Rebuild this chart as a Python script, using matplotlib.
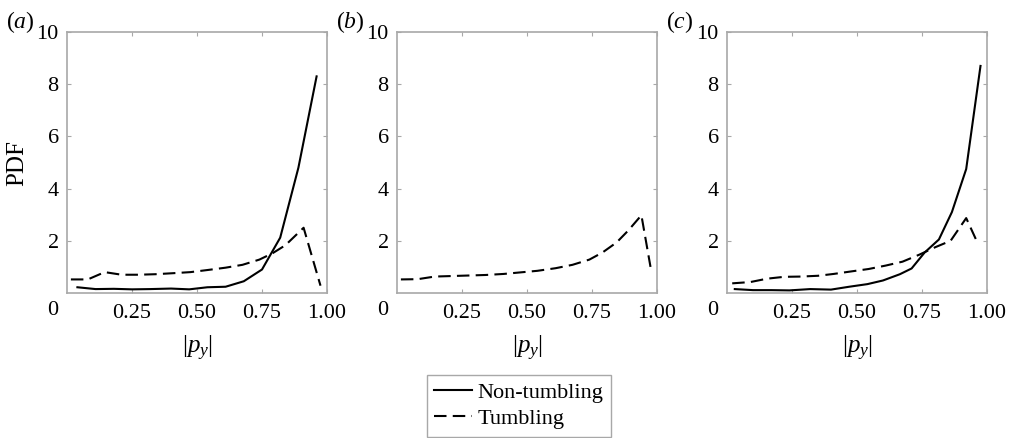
import matplotlib.pyplot as plt
from matplotlib.lines import Line2D

plt.rcParams['font.family'] = ['Liberation Serif', 'DejaVu Serif']
plt.rcParams['mathtext.fontset'] = 'custom'
plt.rcParams['mathtext.rm'] = 'Liberation Serif'
plt.rcParams['mathtext.it'] = 'Liberation Serif:italic'

# (a)
a_solid_x = [0.04, 0.11, 0.18, 0.25, 0.32, 0.40, 0.47, 0.54, 0.61, 0.68, 0.75, 0.82, 0.89, 0.96]
a_solid_y = [0.22, 0.15, 0.16, 0.14, 0.15, 0.17, 0.14, 0.22, 0.24, 0.45, 0.90, 2.12, 4.80, 8.30]
a_dash_x = [0.015, 0.08, 0.145, 0.21, 0.275, 0.34, 0.41, 0.475, 0.54, 0.61, 0.675, 0.74, 0.79, 0.84, 0.91, 0.975]
a_dash_y = [0.52, 0.52, 0.80, 0.70, 0.70, 0.72, 0.76, 0.80, 0.88, 0.97, 1.08, 1.28, 1.52, 1.83, 2.50, 0.28]

# (b)
b_dash_x = [0.015, 0.08, 0.145, 0.21, 0.275, 0.34, 0.41, 0.475, 0.54, 0.61, 0.675, 0.74, 0.79, 0.845, 0.89, 0.94, 0.975]
b_dash_y = [0.52, 0.53, 0.63, 0.65, 0.67, 0.69, 0.73, 0.79, 0.85, 0.95, 1.08, 1.28, 1.55, 1.94, 2.40, 2.98, 1.00]

# (c)
c_solid_x = [0.03, 0.10, 0.17, 0.24, 0.32, 0.40, 0.47, 0.54, 0.60, 0.665, 0.71, 0.76, 0.815, 0.865, 0.92, 0.975]
c_solid_y = [0.15, 0.11, 0.11, 0.10, 0.15, 0.13, 0.24, 0.34, 0.48, 0.72, 0.94, 1.55, 2.05, 3.10, 4.75, 8.70]
c_dash_x = [0.02, 0.09, 0.155, 0.22, 0.285, 0.35, 0.41, 0.48, 0.545, 0.61, 0.675, 0.74, 0.80, 0.86, 0.92, 0.96]
c_dash_y = [0.37, 0.42, 0.55, 0.62, 0.63, 0.66, 0.73, 0.83, 0.92, 1.05, 1.20, 1.47, 1.75, 2.00, 2.87, 2.00]

panels = [
    ('a', [(a_solid_x, a_solid_y)], [(a_dash_x, a_dash_y)]),
    ('b', [], [(b_dash_x, b_dash_y)]),
    ('c', [(c_solid_x, c_solid_y)], [(c_dash_x, c_dash_y)]),
]

xticks = [0.25, 0.50, 0.75, 1.00]
xticklabels = ['0.25', '0.50', '0.75', '1.00']
yticks = [2, 4, 6, 8, 10]
yticklabels = ['2', '4', '6', '8', '10']

W, H = 1009, 438
fig = plt.figure(figsize=(W / 100, H / 100), dpi=100)

lefts = [67, 397, 727]
ax_w, ax_top, ax_bot = 260, 32, 293
dash = (0, (6, 3))
frame = '#a8a8a8'

for left, (tag, solids, dashes) in zip(lefts, panels):
    ax = fig.add_axes([left / W, 1 - ax_bot / H, ax_w / W, (ax_bot - ax_top) / H])
    for x, y in solids:
        ax.plot(x, y, color='black', lw=1.5)
    for x, y in dashes:
        ax.plot(x, y, color='black', lw=1.5, linestyle=dash)
    ax.set_xlim(0, 1)
    ax.set_ylim(0, 10)
    ax.set_xticks(xticks)
    ax.set_xticklabels(xticklabels)
    ax.set_yticks(yticks)
    ax.set_yticklabels(yticklabels)
    ax.tick_params(direction='in', length=3, width=0.8, color=frame,
                   top=True, right=True, labelsize=16)
    ax.tick_params(axis='x', pad=8)
    ax.tick_params(axis='y', pad=6)
    for s in ax.spines.values():
        s.set_color(frame)
        s.set_linewidth(1.2)
    # shared origin label
    ax.text(-0.055, -0.03, '0', transform=ax.transAxes, fontsize=16,
            ha='center', va='top')
    ax.set_xlabel(r'$|p_y|$', fontsize=18, labelpad=8)
    fig.text((left - 61) / W, 1 - 28 / H, '($%s$)' % tag, fontsize=17,
             ha='left', va='baseline')

fig.axes[0].set_ylabel('PDF', fontsize=18, labelpad=6)

handles = [Line2D([], [], color='black', lw=1.5),
           Line2D([], [], color='black', lw=1.5, linestyle=dash)]
leg = fig.legend(handles, ['Non-tumbling', 'Tumbling'], loc='lower center',
                 bbox_to_anchor=(519 / W, 1 / H), fontsize=16, frameon=True,
                 fancybox=False, edgecolor=frame, framealpha=1,
                 handlelength=1.7, handletextpad=0.25, borderpad=0.35,
                 labelspacing=0.25, borderaxespad=0)
leg.get_frame().set_linewidth(1.0)

fig.savefig('out.png', dpi=100)
